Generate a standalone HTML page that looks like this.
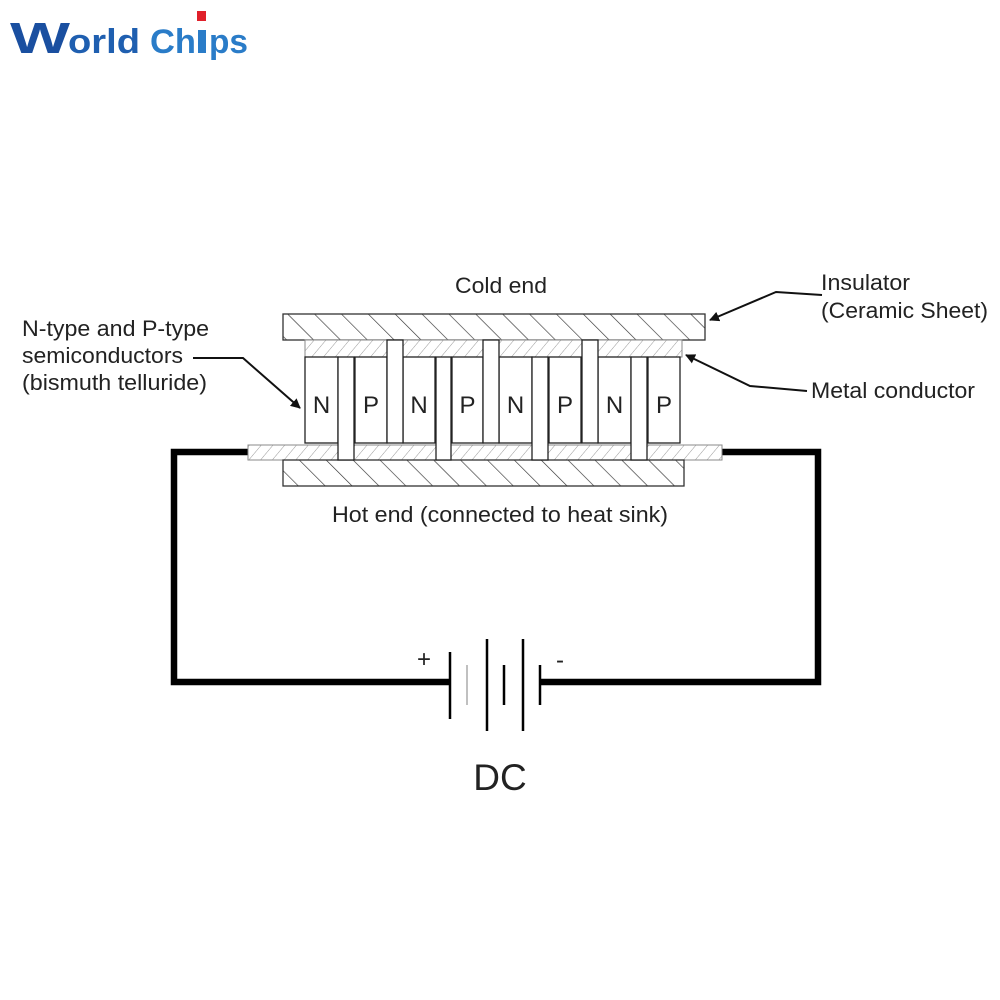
<!DOCTYPE html>
<html><head><meta charset="utf-8"><style>
html,body{margin:0;padding:0;background:#fff;}
svg{display:block;}
text{font-family:"Liberation Sans",Arial,sans-serif;fill:#222;}
</style></head><body>
<svg width="1000" height="1000" viewBox="0 0 1000 1000" xmlns="http://www.w3.org/2000/svg">
<defs>
<pattern id="cer" patternUnits="userSpaceOnUse" width="19" height="19" patternTransform="rotate(-45)">
<line x1="0" y1="0" x2="0" y2="19" stroke="#333" stroke-width="1.3"/>
</pattern>
<pattern id="met" patternUnits="userSpaceOnUse" width="9" height="9" patternTransform="rotate(40)">
<line x1="0" y1="0" x2="0" y2="9" stroke="#999" stroke-width="1"/>
</pattern>
<marker id="ah" markerWidth="10" markerHeight="10" refX="9" refY="5" orient="auto" markerUnits="userSpaceOnUse" viewBox="0 0 10 10">
<path d="M0,0 L10,5 L0,10 z" fill="#111"/>
</marker>
</defs>

<text x="10" y="53" font-size="44" font-weight="bold" style="fill:#1a4fa0" textLength="60" lengthAdjust="spacingAndGlyphs">W</text>
<text x="68" y="53" font-size="34" font-weight="bold" style="fill:#1f5fb0" textLength="72" lengthAdjust="spacingAndGlyphs">orld</text>
<text x="150" y="53" font-size="34" font-weight="bold" style="fill:#2a7cc8" textLength="46" lengthAdjust="spacingAndGlyphs">Ch</text>
<rect x="198" y="30" width="8" height="23" fill="#2a7cc8"/>
<rect x="197" y="11" width="9" height="10" fill="#e0202a"/>
<text x="209" y="53" font-size="34" font-weight="bold" style="fill:#2a7cc8" textLength="39" lengthAdjust="spacingAndGlyphs">ps</text>

<polyline points="250,452 174,452 174,682 450,682" fill="none" stroke="#000" stroke-width="6.5"/>
<polyline points="720,452 818,452 818,682 540,682" fill="none" stroke="#000" stroke-width="6.5"/>

<rect x="283" y="314" width="422" height="26" fill="#fff"/>
<rect x="283" y="314" width="422" height="26" fill="url(#cer)" stroke="#333" stroke-width="1.3"/>
<rect x="305" y="340" width="377" height="17" fill="#fff"/>
<rect x="305" y="340" width="377" height="17" fill="url(#met)" stroke="#888" stroke-width="1"/>
<rect x="248" y="445" width="474" height="15" fill="#fff"/>
<rect x="248" y="445" width="474" height="15" fill="url(#met)" stroke="#888" stroke-width="1"/>
<rect x="283" y="460" width="401" height="26" fill="#fff"/>
<rect x="283" y="460" width="401" height="26" fill="url(#cer)" stroke="#333" stroke-width="1.3"/>

<g fill="#fff" stroke="#222" stroke-width="1.3">
<rect x="305" y="357" width="33" height="86"/>
<rect x="355" y="357" width="32" height="86"/>
<rect x="403" y="357" width="32" height="86"/>
<rect x="452" y="357" width="31" height="86"/>
<rect x="499" y="357" width="33" height="86"/>
<rect x="549" y="357" width="32" height="86"/>
<rect x="598" y="357" width="33" height="86"/>
<rect x="648" y="357" width="32" height="86"/>
<rect x="338" y="357" width="16" height="103"/>
<rect x="436" y="357" width="15" height="103"/>
<rect x="532" y="357" width="16" height="103"/>
<rect x="631" y="357" width="16" height="103"/>
<rect x="387" y="340" width="16" height="103"/>
<rect x="483" y="340" width="16" height="103"/>
<rect x="582" y="340" width="16" height="103"/>
</g>
<g font-size="24" text-anchor="middle">
<text x="321.5" y="413">N</text><text x="371" y="413">P</text>
<text x="419" y="413">N</text><text x="467.5" y="413">P</text>
<text x="515.5" y="413">N</text><text x="565" y="413">P</text>
<text x="614.5" y="413">N</text><text x="664" y="413">P</text>
</g>

<g fill="none" stroke="#111" stroke-width="2">
<polyline points="822,295 776,292 710,320" marker-end="url(#ah)"/>
<polyline points="807,391 750,386 686,355" marker-end="url(#ah)"/>
<polyline points="193,358 243,358 300,408" marker-end="url(#ah)"/>
</g>

<g font-size="22.5">
<text x="455" y="293" textLength="92" lengthAdjust="spacingAndGlyphs">Cold end</text>
<text x="821" y="290" textLength="89" lengthAdjust="spacingAndGlyphs">Insulator</text>
<text x="821" y="318" textLength="167" lengthAdjust="spacingAndGlyphs">(Ceramic Sheet)</text>
<text x="811" y="398" textLength="164" lengthAdjust="spacingAndGlyphs">Metal conductor</text>
<text x="22" y="336" textLength="187" lengthAdjust="spacingAndGlyphs">N-type and P-type</text>
<text x="22" y="363" textLength="161" lengthAdjust="spacingAndGlyphs">semiconductors</text>
<text x="22" y="390" textLength="185" lengthAdjust="spacingAndGlyphs">(bismuth telluride)</text>
<text x="332" y="522" textLength="336" lengthAdjust="spacingAndGlyphs">Hot end (connected to heat sink)</text>
</g>

<g stroke="#000" stroke-width="2.5">
<line x1="450" y1="652" x2="450" y2="719"/>
<line x1="467" y1="665" x2="467" y2="705" stroke="#aaa" stroke-width="1.5"/>
<line x1="487" y1="639" x2="487" y2="731"/>
<line x1="504" y1="665" x2="504" y2="705"/>
<line x1="523" y1="639" x2="523" y2="731"/>
<line x1="540" y1="665" x2="540" y2="705"/>
</g>
<text x="424" y="667" font-size="24" text-anchor="middle">+</text>
<text x="560" y="668" font-size="24" text-anchor="middle">-</text>
<text x="500" y="790" font-size="37" text-anchor="middle">DC</text>
</svg>
</body></html>
